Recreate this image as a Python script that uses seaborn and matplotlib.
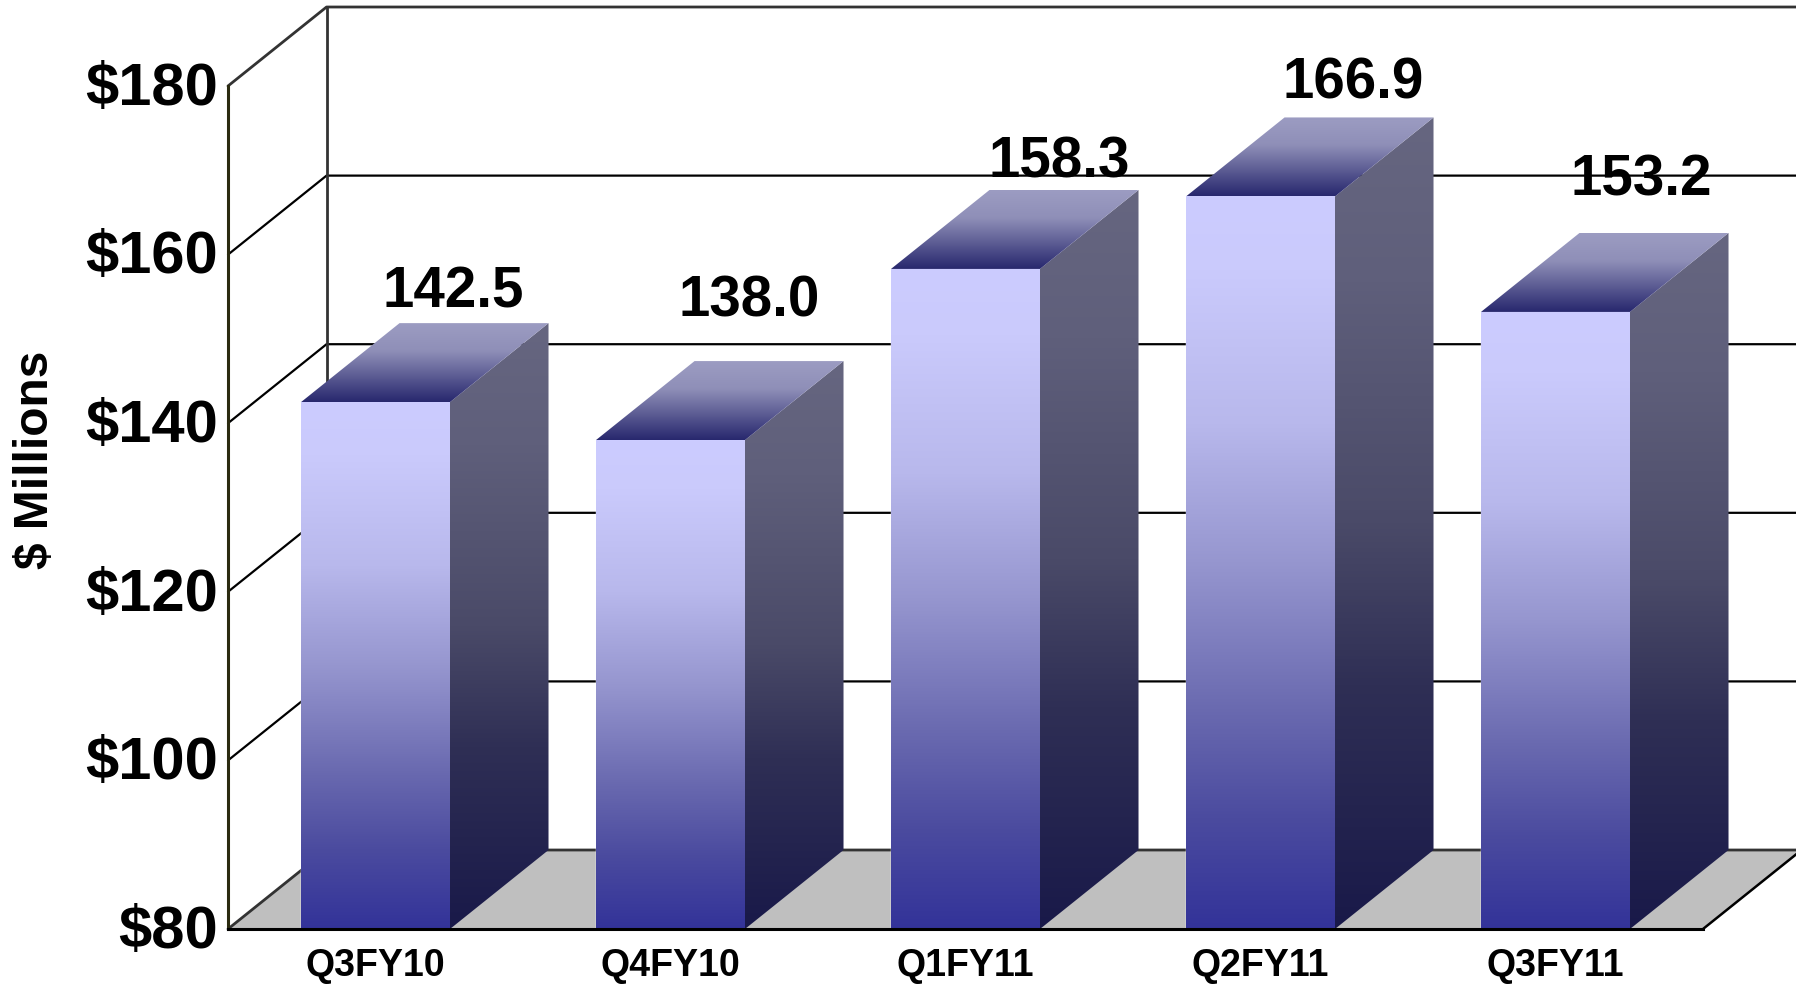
import numpy as np
import pandas as pd
import matplotlib
matplotlib.use('Agg')
import matplotlib.pyplot as plt
from matplotlib.colors import LinearSegmentedColormap
from matplotlib.patches import Polygon
from matplotlib.transforms import ScaledTranslation
import seaborn as sns

quarters = ['Q3FY10', 'Q4FY10', 'Q1FY11', 'Q2FY11', 'Q3FY11']
revenue = [142.5, 138.0, 158.3, 166.9, 153.2]
y_ticks = [80, 100, 120, 140, 160, 180]
y_tick_labels = ['$80', '$100', '$120', '$140', '$160', '$180']

# hand placed value labels, pixels away from the top centre of each bar
label_dx = [78, 79, 94, 93, 86]
label_dy = [110, 139, 106, 113, 131]

# depth of the fake 3d box, in data units
dx = 0.334
dy = 9.37

front_cmap = LinearSegmentedColormap.from_list('front', [(0, '#CCCCFF'), (0.1, '#CACAFC'), (0.31, '#B8B8EC'),
                                                         (0.5, '#9696CF'), (0.7, '#6A6AB0'), (0.85, '#4B4B9F'),
                                                         (1, '#333399')])
side_cmap = LinearSegmentedColormap.from_list('side', [(0, '#666680'), (0.2, '#5F5F7B'), (0.5, '#4A4A68'),
                                                       (0.7, '#2F2F55'), (1, '#191949')])
top_cmap = LinearSegmentedColormap.from_list('top', [(0, '#9C9CC2'), (0.35, '#8F8FB8'), (1, '#28286E')])

sns.set_style('white')
plt.rcParams['font.family'] = ['Liberation Sans', 'DejaVu Sans']

fig = plt.figure(figsize=(17.96, 9.85), dpi=100)
ax = fig.add_axes([228 / 1796, 56 / 985, 1475 / 1796, 843 / 985])

df = pd.DataFrame({'quarter': quarters, 'revenue': revenue})
sns.barplot(data=df, x='quarter', y='revenue', width=0.505, color='#CCCCFF', saturation=1, ax=ax, zorder=3)


def gradient(points, cmap, y0, y1):
    # fill a polygon with a top to bottom gradient
    poly = Polygon(points, closed=True, facecolor='none', edgecolor='none', transform=ax.transData)
    ax.add_patch(poly)
    xs = [p[0] for p in points]
    ramp = np.linspace(0, 1, 256).reshape(-1, 1)
    im = ax.imshow(ramp, cmap=cmap, aspect='auto', origin='upper', zorder=3,
                   extent=[min(xs), max(xs), y0, y1])
    im.set_clip_path(poly)
    im.set_clip_box(fig.bbox)


# floor
ax.add_patch(Polygon([(-0.5, 80), (4.5, 80), (4.5 + dx, 80 + dy), (-0.5 + dx, 80 + dy)],
                     closed=True, facecolor='#BFBFBF', edgecolor='none', clip_on=False, zorder=1))

# back wall and side wall lines
for t in y_ticks:
    dark = t in (80, 180)
    ax.plot([-0.5, -0.5 + dx, 4.5 + dx], [t, t + dy, t + dy], color='#333333' if dark else 'black',
            lw=2 if dark else 1.6, clip_on=False, zorder=2)
ax.plot([-0.5 + dx, -0.5 + dx], [80 + dy, 180 + dy], color='#333333', lw=2, clip_on=False, zorder=2)
ax.plot([4.5, 4.5 + dx], [80, 80 + dy], color='black', lw=1.8, clip_on=False, zorder=2)

for bar, val, ox, oy in zip(ax.patches[:5], revenue, label_dx, label_dy):
    x0 = bar.get_x()
    x1 = x0 + bar.get_width()
    bar.set_facecolor('none')
    gradient([(x0, 80), (x1, 80), (x1, val), (x0, val)], front_cmap, 80, val)
    gradient([(x1, 80), (x1 + dx, 80 + dy), (x1 + dx, val + dy), (x1, val)], side_cmap, 80, val + dy)
    gradient([(x0, val), (x1, val), (x1 + dx, val + dy), (x0 + dx, val + dy)], top_cmap, val, val + dy)
    ax.annotate(f'{val:.1f}', xy=(x0 + bar.get_width() / 2, val), xytext=(ox, oy), textcoords='offset pixels',
                ha='center', va='center', fontsize=40.7, fontweight='bold', color='black', zorder=5,
                annotation_clip=False)

ax.set_xlim(-0.5, 4.5)
ax.set_ylim(80, 180)
ax.set_yticks(y_ticks)
ax.set_yticklabels(y_tick_labels, fontsize=43, fontweight='bold', color='black')
ax.set_xticks(range(len(quarters)))
ax.set_xticklabels(quarters, fontsize=27, fontweight='bold', color='black')
ax.tick_params(axis='y', length=0, pad=7)
ax.tick_params(axis='x', length=0, pad=14)
ax.set_xlabel('')
ax.set_ylabel('')

# nudge the y labels up a little
nudge = ScaledTranslation(0, 2 / 72, fig.dpi_scale_trans)
for lab in ax.get_yticklabels():
    lab.set_transform(lab.get_transform() + nudge)

fig.text(36 / 1796, 1 - 460 / 985, '$ Millions', rotation=90, ha='center', va='center',
         fontsize=34.5, fontweight='bold', color='black')

ax.patch.set_alpha(0)
sns.despine(ax=ax)
ax.spines['left'].set_color('#2B2B10')
ax.spines['left'].set_linewidth(2.2)
ax.spines['left'].set_zorder(6)
ax.spines['bottom'].set_color('black')
ax.spines['bottom'].set_linewidth(2.2)
ax.spines['bottom'].set_zorder(7)

fig.savefig('out.png', dpi=100)
